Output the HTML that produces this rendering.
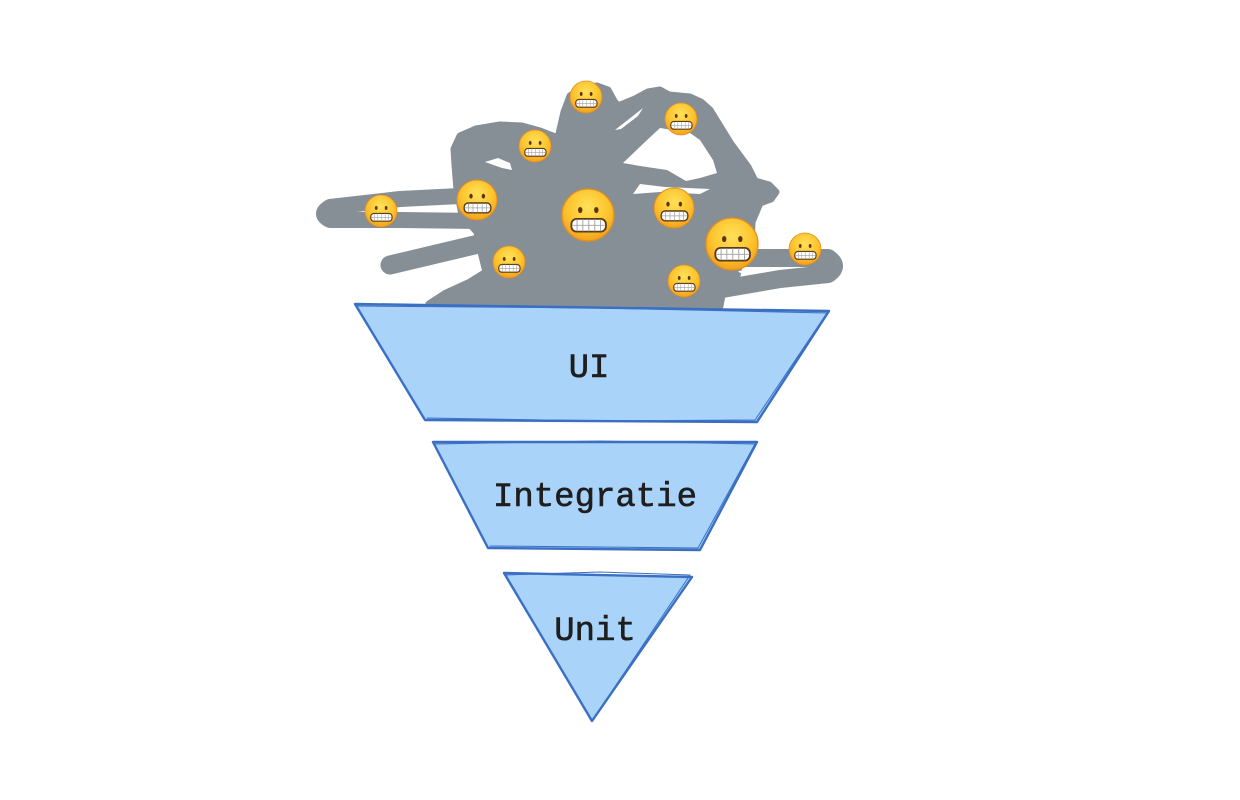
<!DOCTYPE html>
<html><head><meta charset="utf-8"><style>
html,body{margin:0;padding:0;background:#fff;}
svg{display:block;}
</style></head><body>
<svg width="1240" height="800" viewBox="0 0 1240 800" xmlns="http://www.w3.org/2000/svg">
<defs>
<radialGradient id="yg" cx="0.5" cy="0.35" r="0.72">
<stop offset="0" stop-color="#ffe159"/>
<stop offset="0.55" stop-color="#fcc42e"/>
<stop offset="1" stop-color="#ef9819"/>
</radialGradient>
<g id="emo">
<circle cx="0" cy="0" r="1" fill="url(#yg)" stroke="#e58e1f" stroke-width="0.05"/>
<ellipse cx="-0.3" cy="-0.19" rx="0.085" ry="0.12" fill="#5c3510"/>
<ellipse cx="0.32" cy="-0.19" rx="0.085" ry="0.12" fill="#5c3510"/>
<rect x="-0.64" y="0.15" width="1.33" height="0.49" rx="0.2" fill="#fff" stroke="#5a3a14" stroke-width="0.07"/>
<path d="M-0.62 0.395 H0.67 M-0.42 0.17 V0.62 M-0.2 0.16 V0.63 M0.03 0.16 V0.63 M0.26 0.16 V0.63 M0.48 0.17 V0.62" stroke="#a0a0a0" stroke-width="0.035" fill="none"/>
</g>
</defs>

<!-- gray scribble -->
<g fill="#868e96" stroke="#868e96" stroke-width="7" stroke-linejoin="round">
<path d="M429,304 L446,293 L470,282 L486,272 L481,252 L477,232 L462,215 L457,190 L455,165 L454,149 L460,136 L476,129 L500,125 L522,126 L540,131 L558,138 L564,112 L570,96 L581,89 L597,86 L608,90 L614,101 L618,106 L635,99 L648,92 L660,90 L669,95 L690,97 L701,102 L710,110 L731,144 L748,167 L755,181 L769,185 L776,192 L771,199 L760,203 L752,222 L751,250 L740,262 L735,285 L722,295 L720,306 Z"/>
</g>
<g fill="none" stroke="#868e96" stroke-linecap="round" stroke-linejoin="round">
<path d="M460,196 L400,199 L330,207 Q318,214 330,220 L400,220 L480,221" stroke-width="16"/>
<path d="M390,265 L487,242" stroke-width="19"/>
<path d="M742,258 L828,258 Q840,266 828,274 L780,279 L722,289" stroke-width="18"/>
</g>
<g fill="#fff">
<path d="M485,162 L498,158 L510,163 L512,170 L502,168 Z"/>
<path d="M615,130 L643,108 L638,116 L621,129 Z"/>
<path d="M623,163 L645,142 L660,128 L690,133 L700,140 L713,160 L717,173 L700,178 L686,181 L667,170 L640,166 Z"/>
<path d="M633,194 L640,184 L665,187 L710,189 L700,194 L660,192 Z"/>
<path d="M738,271 L777,267 L770,271 L740,273 Z"/>
</g>

<!-- emojis -->
<use href="#emo" transform="translate(586 97) scale(16)"/>
<use href="#emo" transform="translate(681 119) scale(16)"/>
<use href="#emo" transform="translate(535 146) scale(16)"/>
<use href="#emo" transform="translate(477 200) scale(20)"/>
<use href="#emo" transform="translate(381 211) scale(16)"/>
<use href="#emo" transform="translate(588 215) scale(26)"/>
<use href="#emo" transform="translate(674 208) scale(20)"/>
<use href="#emo" transform="translate(732 244) scale(26)"/>
<use href="#emo" transform="translate(805 249) scale(16)"/>
<use href="#emo" transform="translate(509 262) scale(16)"/>
<use href="#emo" transform="translate(684 281) scale(16)"/>

<!-- funnel -->
<g stroke="#3a6fc3" stroke-linejoin="round" stroke-linecap="round">
<polygon points="355,304 829,311 757,422 425,420" fill="#a9d3f9" stroke-width="2.4"/>
<polyline points="357,306 600,308 827,313 755,420 600,421 427,418" fill="none" stroke-width="1"/>
<polygon points="433,442 757,442 700,550 488,548" fill="#a9d3f9" stroke-width="2.4"/>
<polyline points="435,444 600,441 755,444 698,548 490,546" fill="none" stroke-width="1"/>
<polygon points="504,573 692,577 592,721" fill="#a9d3f9" stroke-width="2.4"/>
<polyline points="506,575 600,572 690,575 594,718" fill="none" stroke-width="1"/>
</g>

<g font-family="'Liberation Mono', monospace" font-size="34" fill="#1e1e1e" stroke="#1e1e1e" stroke-width="0.6" text-anchor="middle">
<text x="589" y="377">UI</text>
<text x="595" y="506">Integratie</text>
<text x="595" y="640">Unit</text>
</g>
</svg>
</body></html>
